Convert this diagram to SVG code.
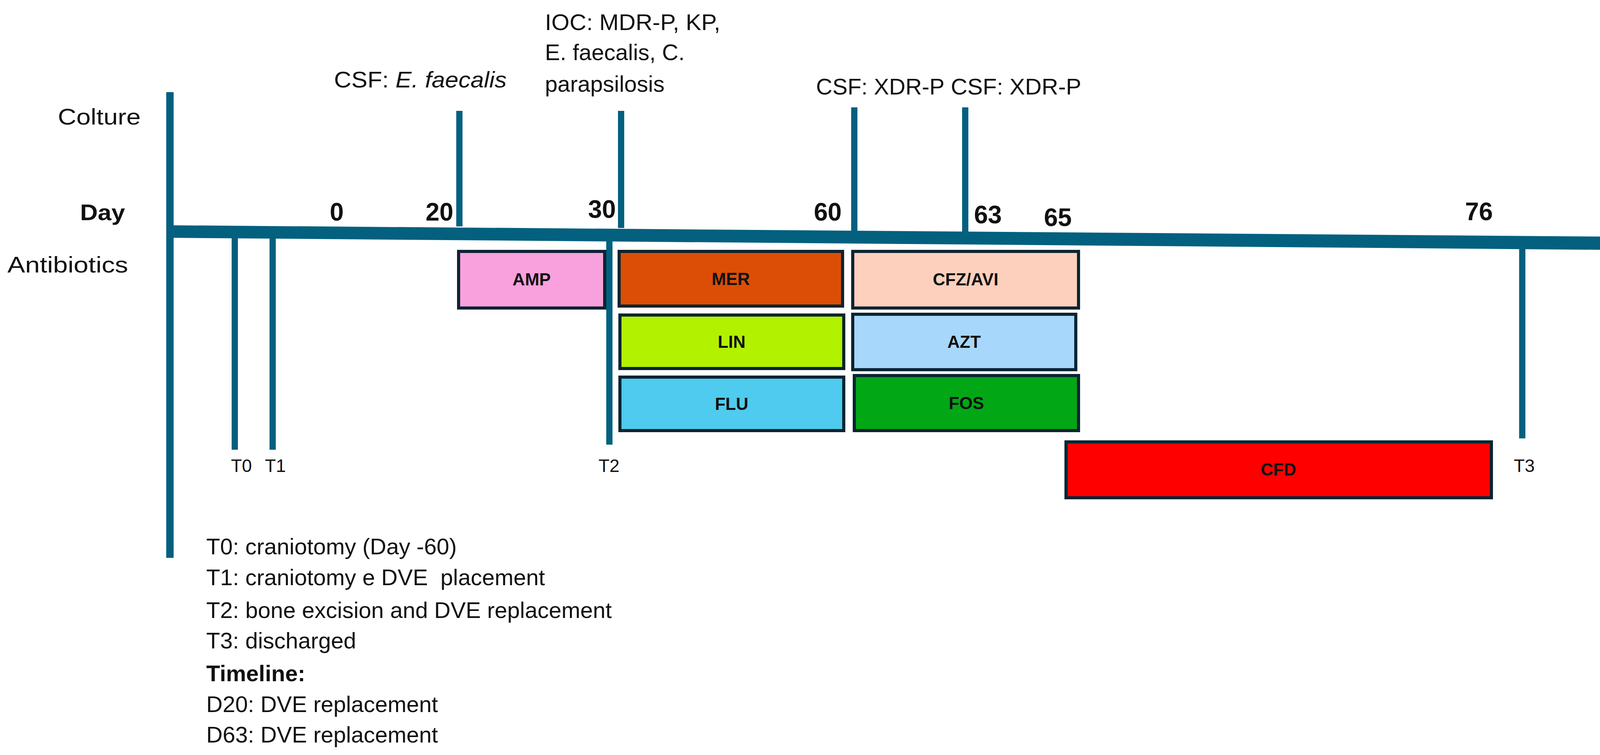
<svg xmlns="http://www.w3.org/2000/svg" width="4229" height="1934" viewBox="0 0 4229 1934">
<style>
text{font-family:"Liberation Sans",Arial,sans-serif;fill:#111}
.ln{stroke:#03607f;stroke-width:16;fill:none}
.bx{stroke:#0b2432;stroke-width:8}
.bl{font-size:44px;font-weight:bold;text-anchor:middle}
.num{font-size:64px;font-weight:bold;text-anchor:middle}
.lab{font-size:58px}
.t{font-size:46px;text-anchor:middle}
.lg{font-size:58px}
</style>
<rect width="4229" height="1934" fill="#fff"/>
<g id="connectors">
<line x1="435" y1="236" x2="435" y2="1429" stroke="#03607f" stroke-width="19"/>
<path d="M430 577 L4109 606 L4109 574 L4206 623 L4109 672 L4109 640 L430 609 Z" fill="#03607f"/>
<line class="ln" x1="1176" y1="284" x2="1176" y2="580"/>
<line class="ln" x1="1590" y1="284" x2="1590" y2="584"/>
<line class="ln" x1="2187" y1="275" x2="2187" y2="595"/>
<line class="ln" x1="2471" y1="275" x2="2471" y2="598"/>
<line class="ln" x1="601" y1="600" x2="601" y2="1152"/>
<line class="ln" x1="698" y1="600" x2="698" y2="1152"/>
<line class="ln" x1="1560" y1="600" x2="1560" y2="1139"/>
<line class="ln" x1="3897" y1="630" x2="3897" y2="1123"/>
</g>
<g id="labels">
<text class="lab" x="148" y="319" textLength="212" lengthAdjust="spacingAndGlyphs">Colture</text>
<text class="lab" x="205" y="564" font-weight="bold" textLength="115" lengthAdjust="spacingAndGlyphs">Day</text>
<text class="lab" x="19" y="698" textLength="309" lengthAdjust="spacingAndGlyphs">Antibiotics</text>
<text class="num" x="862" y="565">0</text>
<text class="num" x="1125" y="565">20</text>
<text class="num" x="1541" y="558">30</text>
<text class="num" x="2119" y="565">60</text>
<text class="num" x="2529" y="572">63</text>
<text class="num" x="2708" y="579">65</text>
<text class="num" x="3786" y="564">76</text>
<text class="lab" x="855" y="224" textLength="442" lengthAdjust="spacingAndGlyphs">CSF: <tspan font-style="italic">E. faecalis</tspan></text>
<text class="lab" x="1395" y="77" textLength="449" lengthAdjust="spacingAndGlyphs">IOC: MDR-P, KP,</text>
<text class="lab" x="1395" y="154">E. faecalis, C.</text>
<text class="lab" x="1395" y="235">parapsilosis</text>
<text class="lab" x="2089" y="242" textLength="329" lengthAdjust="spacingAndGlyphs">CSF: XDR-P</text>
<text class="lab" x="2434" y="242" textLength="334" lengthAdjust="spacingAndGlyphs">CSF: XDR-P</text>
<text class="t" x="618" y="1209">T0</text>
<text class="t" x="705" y="1209">T1</text>
<text class="t" x="1559" y="1209">T2</text>
<text class="t" x="3902" y="1209">T3</text>
</g>
<g id="AMP"><rect class="bx" x="1174" y="644" width="374" height="145" fill="#f9a1dc"/><text class="bl" x="1361" y="731">AMP</text></g>
<g id="MER"><rect class="bx" x="1585" y="644" width="572" height="140" fill="#dc4e06"/><text class="bl" x="1871" y="730">MER</text></g>
<g id="CFZAVI"><rect class="bx" x="2183" y="644" width="578" height="145" fill="#fdd0be"/><text class="bl" x="2472" y="731">CFZ/AVI</text></g>
<g id="LIN"><rect class="bx" x="1587" y="807" width="573" height="137" fill="#b2f201"/><text class="bl" x="1873" y="891">LIN</text></g>
<g id="AZT"><rect class="bx" x="2183" y="805" width="571" height="142" fill="#a7d8fc"/><text class="bl" x="2468" y="891">AZT</text></g>
<g id="FLU"><rect class="bx" x="1587" y="966" width="573" height="137" fill="#4ecbee"/><text class="bl" x="1873" y="1050">FLU</text></g>
<g id="FOS"><rect class="bx" x="2187" y="962" width="574" height="141" fill="#02a716"/><text class="bl" x="2474" y="1048">FOS</text></g>
<g id="CFD"><rect class="bx" x="2729" y="1132" width="1089" height="143" fill="#fe0000"/><text class="bl" x="3273" y="1218">CFD</text></g>
<g id="legend">
<text class="lg" x="528" y="1420">T0: craniotomy (Day -60)</text>
<text class="lg" x="528" y="1499" xml:space="preserve">T1: craniotomy e DVE  placement</text>
<text class="lg" x="528" y="1583">T2: bone excision and DVE replacement</text>
<text class="lg" x="528" y="1661">T3: discharged</text>
<text class="lg" x="528" y="1745" font-weight="bold">Timeline:</text>
<text class="lg" x="528" y="1824">D20: DVE replacement</text>
<text class="lg" x="528" y="1902">D63: DVE replacement</text>
</g>
</svg>
